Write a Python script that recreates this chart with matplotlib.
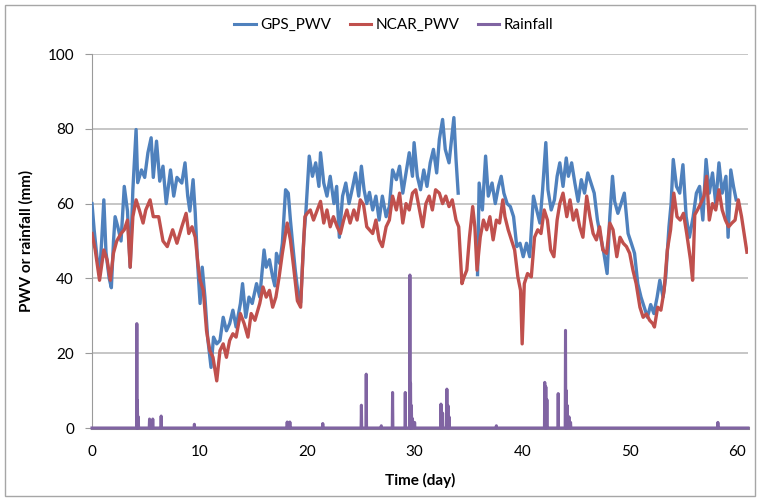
import numpy as np
import matplotlib
matplotlib.use("Agg")
import matplotlib.pyplot as plt
import matplotlib.patches as patches
from matplotlib.lines import Line2D

plt.rcParams['font.family'] = ['Lato', 'DejaVu Sans']

# GPS_PWV (mm); gap where the series has no data
gps_day = [0.0, 0.2, 0.45, 0.7, 0.9, 1.1, 1.3, 1.6, 1.8, 2.0, 2.15, 2.4, 2.7, 3.0, 3.3, 3.55,
           3.8, 4.1, 4.25, 4.6, 4.9, 5.2, 5.5, 5.7, 6.0, 6.3, 6.6, 6.9, 7.3, 7.6, 7.9, 8.35,
           8.65, 8.9, 9.1, 9.4, 9.6, 9.8, 10.05, 10.25, 10.5, 10.75, 11.07, 11.3, 11.6, 11.9,
           12.2, 12.5, 12.8, 13.1, 13.4, 13.8, 14.0, 14.3, 14.6, 14.9, 15.3, 15.6, 16.0, 16.2,
           16.5, 16.8, 17.0, 17.15, 17.45, 17.7, 18.0, 18.25, 18.45, 18.65, 18.9, 19.2, 19.4,
           19.7, 19.9, 20.2, 20.5, 20.8, 21.1, 21.25, 21.55, 21.85, 22.15, 22.5, 22.75, 23.0,
           23.3, 23.6, 23.9, 24.25, 24.5, 24.8, 25.05, 25.3, 25.55, 25.8, 26.1, 26.4, 26.7,
           27.0, 27.35, 27.65, 27.95, 28.3, 28.6, 28.9, 29.2, 29.5, 29.8, 29.95, 30.25, 30.55,
           30.85, 31.15, 31.45, 31.75, 32.05, 32.3, 32.6, 32.85, 33.2, 33.4, 33.65, 33.85,
           34.05, 34.2, 35.85, 36.0, 36.3, 36.6, 36.85, 37.2, 37.5, 37.8, 38.05, 38.3, 38.6,
           38.9, 39.2, 39.5, 39.8, 40.1, 40.4, 40.7, 41.05, 41.35, 41.65, 41.9, 42.2, 42.4,
           42.7, 43.0, 43.25, 43.5, 43.8, 44.1, 44.3, 44.6, 44.9, 45.2, 45.5, 45.8, 46.1, 46.4,
           46.7, 47.0, 47.3, 47.6, 47.9, 48.15, 48.4, 48.6, 48.9, 49.2, 49.5, 49.85, 50.15,
           50.45, 50.75, 51.05, 51.35, 51.65, 51.95, 52.25, 52.55, 52.8, 53.1, 53.35, 53.65,
           53.85, 54.05, 54.35, 54.65, 54.95, 55.25, 55.55, 55.9, 56.2, 56.5, 56.8, 57.1, 57.4,
           57.7, 58.0, 58.3, 58.6, 58.95, 59.15, 59.4, 59.65, 59.9]
gps_pwv = [60, 53, 46, 41, 50, 61, 47, 40, 37.5, 50, 56.5, 53.8, 50, 64.6, 58, 43,
           63.7, 79.8, 65.6, 69, 67, 73.6, 77.6, 67, 76.7, 66, 70, 60, 69, 62, 67, 65.5,
           70.9, 62, 58, 66.4, 57.5, 45, 33.3, 43, 35, 24.3, 16.2, 24.3, 22.5, 23.4,
           29.6, 26, 27.9, 31.5, 27, 33.3, 38.6, 29.6, 35, 33.3, 38.6, 35, 47.6, 43,
           45, 40.4, 38, 46.7, 44, 49.4, 63.7, 62.8, 55.6, 49.4, 42.2, 35, 33.5,
           51, 58.3, 72.7, 67.3, 70.9, 64.6, 73.6, 65.5, 62, 67.3, 60, 64.6, 51,
           62, 65.5, 60, 64.6, 68.2, 62, 70, 63.7, 60, 63, 58.3, 62, 55.6,
           62, 56.5, 59.2, 69, 66.4, 70, 62.8, 68.2, 73.6, 67.3, 76.3, 67.3, 63.7,
           69, 64.6, 70.9, 74.5, 68.2, 77.2, 82.5, 74.5, 70.9, 76.3, 83, 71.8,
           62.8, np.nan, 41, 65.5, 58.3, 72.7, 62, 65.5, 60, 64.6, 67.3, 62.8, 60,
           59.2, 56.5, 48.5, 49.4, 45.8, 49.4, 45.8, 62, 58.3, 54.8, 63.7, 76.3, 63.7,
           58.3, 61, 67.3, 70.9, 64.6, 72.2, 67.3, 70.9, 65.5, 60.6, 66.4, 62.8, 68.2, 65.5,
           62.8, 55.6, 51, 46.7, 41.3, 56.5, 67.3, 60.6, 57.4, 60, 62.8, 52, 49.4,
           46.7, 38.6, 35, 32.3, 29.6, 33, 30.6, 35, 39.5, 35, 40.4, 53.8,
           60, 71.8, 64.6, 62.8, 70.4, 56.5, 51, 56.5, 62.8, 64.6, 55.6, 71.8, 62.8,
           68.2, 60, 70.9, 62.8, 67.3, 51, 69, 64.6, 61]

# NCAR_PWV (mm)
ncar_day = [0.0, 0.3, 0.7, 1.1, 1.4, 1.7, 2.0, 2.3, 2.7, 3.0, 3.3, 3.55, 3.8, 4.1, 4.4, 4.75,
            5.0, 5.4, 5.7, 6.2, 6.6, 7.0, 7.5, 7.9, 8.35, 8.75, 9.0, 9.3, 9.6, 9.85, 10.05,
            10.35, 10.65, 10.95, 11.25, 11.6, 11.9, 12.2, 12.5, 12.8, 13.1, 13.4, 13.8, 14.15,
            14.5, 14.8, 15.15, 15.6, 15.9, 16.2, 16.5, 16.8, 17.1, 17.4, 17.7, 18.15, 18.45,
            18.75, 19.1, 19.4, 19.6, 19.8, 20.0, 20.3, 20.6, 20.95, 21.25, 21.55, 21.85, 22.15,
            22.45, 22.8, 23.1, 23.4, 23.7, 24.0, 24.35, 24.65, 24.95, 25.25, 25.55, 25.8, 26.1,
            26.4, 26.7, 27.0, 27.35, 27.65, 27.95, 28.3, 28.6, 28.9, 29.2, 29.5, 29.8, 30.1,
            30.4, 30.75, 31.05, 31.35, 31.65, 31.95, 32.3, 32.6, 32.9, 33.2, 33.5, 33.85, 34.1,
            34.4, 34.6, 34.85, 35.1, 35.4, 35.6, 35.8, 36.1, 36.4, 36.7, 37.0, 37.3, 37.6, 37.9,
            38.2, 38.4, 38.7, 39.0, 39.3, 39.6, 39.85, 40.0, 40.2, 40.5, 40.85, 41.15, 41.45,
            41.75, 42.05, 42.35, 42.65, 42.95, 43.25, 43.5, 43.8, 44.15, 44.45, 44.75, 45.05,
            45.35, 45.65, 46.0, 46.3, 46.6, 46.9, 47.2, 47.5, 47.85, 48.15, 48.45, 48.8, 49.1,
            49.4, 49.7, 50.0, 50.3, 50.6, 50.95, 51.25, 51.55, 51.85, 52.15, 52.3, 52.6, 52.9,
            53.2, 53.5, 53.8, 54.1, 54.4, 54.7, 55.0, 55.3, 55.65, 55.85, 56.05, 56.3, 56.6,
            56.9, 57.15, 57.4, 57.7, 58.0, 58.3, 58.6, 58.9, 59.2, 59.5, 59.8, 60.1, 60.4, 60.9]
ncar_pwv = [52, 47.6, 39.5, 47.6, 45, 39.5, 46.8, 50, 52, 53, 55.6, 43, 56.5, 61, 58.3, 54.8,
            58.3, 61, 56.5, 56.5, 50, 48.5, 53, 49.4, 53.8, 57.4, 52, 53.8, 51, 44, 39.5,
            36.8, 26, 20.7, 18.9, 12.6, 20.7, 22.5, 18.9, 23.4, 25.2, 24.3, 30.6, 27.9,
            24.3, 30.6, 28.8, 33.3, 37.7, 35, 36.8, 32.3, 35, 40.4, 46.7, 54.8, 50.3,
            43, 34, 32.3, 45, 56.5, 57.4, 58.3, 55.6, 58.3, 60.6, 54.8, 58.3, 53.8,
            56.5, 53.8, 52, 55.6, 58.3, 54.8, 58.3, 55.6, 61, 59.7, 53.8, 53, 52,
            55.6, 50.3, 48.5, 53.8, 55.6, 62, 58.3, 62.8, 54.8, 60, 58.3, 62.8, 63.7,
            59.2, 53.8, 60, 62, 58.3, 63.7, 62.8, 60, 62, 59.2, 61, 55.6, 53.8,
            38.6, 40.4, 42.2, 51, 59.2, 53.8, 42.2, 51, 55.6, 53, 56.5, 50.3, 55.6, 54.8,
            61, 56.5, 53, 50.3, 47.6, 40.4, 36.8, 22.5, 38.6, 41.3, 40.4, 51, 53,
            52, 58.3, 55.6, 47.6, 45.8, 55.6, 60, 62.8, 56.5, 61, 55.6, 58.3,
            53.8, 51, 62, 56.5, 52, 50.3, 53.8, 47.6, 46.7, 54.8, 53, 45.8, 51,
            49.4, 48.5, 46.7, 42.2, 38.6, 32.3, 29.6, 30.5, 28.8, 27.9, 27, 32.3, 31.5,
            36.8, 47.6, 53, 62.8, 56.5, 55.6, 57.4, 52, 45, 39.5, 57, 58.3, 60,
            62, 67.3, 55.6, 60, 58.3, 63.7, 58.3, 55.6, 53.8, 54.8, 55.6, 61, 56.5, 47]

# Rainfall (mm): hours with rain, zero otherwise
rain_spike_day = [4.17, 4.22, 4.3, 5.35, 5.5, 5.65, 6.43, 9.52, 18.15, 18.4, 21.46, 25.05,
                  25.5, 26.9, 27.95, 29.13, 29.56, 29.62, 29.7, 29.8, 30.0, 32.45, 32.6,
                  33.0, 33.1, 33.2, 37.6, 42.1, 42.2, 42.3, 43.35, 44.03, 44.1, 44.2, 44.35,
                  44.5, 58.2]
rain_spike_mm = [27.9, 7.4, 3, 2.4, 1.5, 2.4, 3.2, 1.0, 1.6, 1.6, 1.2, 6.1,
                 14.4, 0.6, 9.5, 9.5, 40.9, 12, 6, 2.5, 1.5, 6.4, 4,
                 10.4, 6, 3, 0.6, 12.2, 11, 7.6, 9.2, 26.1, 10, 6, 3,
                 1.5, 1.5]

rain_day = [0.0]
rain_mm = [0.0]
for d, v in zip(rain_spike_day, rain_spike_mm):
    rain_day += [d - 0.03, d, d + 0.03]
    rain_mm += [0.0, v, 0.0]
rain_day.append(61.0)
rain_mm.append(0.0)

c_gps = '#4F81BD'
c_ncar = '#C0504D'
c_rain = '#8064A2'

W, H = 761, 500
fig = plt.figure(figsize=(W / 100, H / 100), dpi=100)
fig.patch.set_facecolor('white')
fig.patches.append(patches.Rectangle((5 / W, 4 / H), 750 / W, 491 / H, transform=fig.transFigure,
                                     fill=False, edgecolor='#A6A6A6', lw=1.0))

ax = fig.add_axes([92 / W, 72 / H, 656 / W, 374 / H])
ax.plot(gps_day, gps_pwv, color=c_gps, lw=2.4, zorder=3)
ax.plot(ncar_day, ncar_pwv, color=c_ncar, lw=2.4, zorder=4)
ax.plot(rain_day, rain_mm, color=c_rain, lw=2.2, zorder=5, clip_on=False)

ax.set_xlim(0, 61)
ax.set_ylim(0, 100)
ax.set_xticks(range(0, 61, 10))
ax.set_yticks(range(0, 101, 20))
ax.yaxis.grid(True, color='#B7B7B7', lw=1.1)
ax.set_axisbelow(True)
for s in ['top', 'right']:
    ax.spines[s].set_visible(False)
ax.spines['left'].set_color('#9A9A9A')
ax.spines['bottom'].set_color('#8C8C8C')
ax.spines['bottom'].set_linewidth(2.2)
ax.tick_params(axis='y', direction='out', length=5, color='#9A9A9A', labelsize=11, pad=8)
ax.tick_params(axis='x', length=0, labelsize=11, pad=12)

ax.set_xlabel('Time (day)', fontsize=11, fontweight='bold', labelpad=10)
ax.set_ylabel('PWV or rainfall (mm)', fontsize=11, fontweight='bold', labelpad=10)

handles = [Line2D([], [], color=c_gps, lw=2.2),
           Line2D([], [], color=c_ncar, lw=2.2),
           Line2D([], [], color=c_rain, lw=2.2)]
fig.legend(handles, ['GPS_PWV', 'NCAR_PWV', 'Rainfall'], loc='center',
           bbox_to_anchor=(394 / W, 1 - 25 / H), ncol=3, frameon=False, fontsize=11,
           handlelength=1.4, handletextpad=0.3, columnspacing=1.2)

fig.savefig('out.png', dpi=100)
